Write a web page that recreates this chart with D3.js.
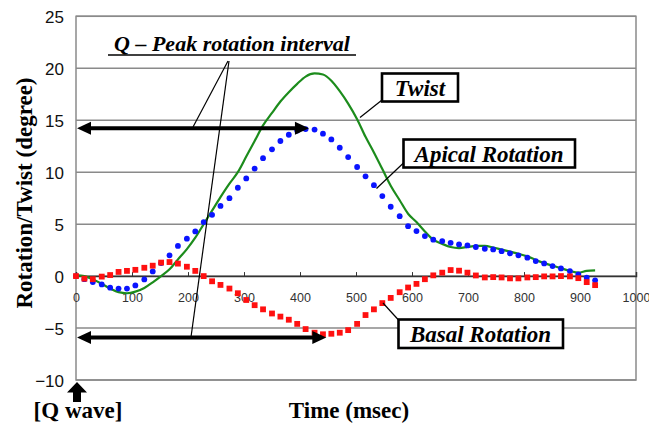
<!DOCTYPE html>
<html>
<head>
<meta charset="utf-8">
<script src="https://cdn.jsdelivr.net/npm/d3@7"></script>
<style>
  html, body { margin: 0; padding: 0; background: #fff; }
  svg { display: block; }
  .serif { font-family: "Liberation Serif", "Tinos", "Times New Roman", "Nimbus Roman", "DejaVu Serif", serif; }
</style>
</head>
<body>
<svg id="chart" width="649" height="427"></svg>
<script>
// ---- Data ----
const timeMs = [0,15,30,46,61,76,91,106,122,137,152,167,182,198,213,228,243,258,274,289,304,319,334,350,365,380,395,410,426,441,456,471,486,502,517,532,547,562,578,593,608,623,638,654,669,684,699,714,730,745,760,775,790,806,821,836,851,866,882,897,912,927];
const apicalRotation = [0,-0.3,-0.58,-0.8,-1.12,-1.2,-1.2,-0.9,-0.32,0.45,1.25,2.0,2.9,3.6,4.3,5.2,5.9,6.75,7.5,8.5,9.4,10.35,11.35,12.2,13.0,13.6,14.0,14.15,14.1,13.7,13.15,12.35,11.45,10.5,9.6,8.75,7.7,6.67,5.77,4.8,4.33,3.85,3.5,3.37,3.2,3.05,2.95,2.8,2.63,2.57,2.4,2.18,2.0,1.77,1.44,1.22,0.96,0.74,0.48,0.16,-0.16,-0.41];
const basalRotation = [0,-0.25,-0.3,-0.05,0.1,0.4,0.5,0.6,0.8,1.0,1.3,1.35,1.2,0.9,0.5,0.0,-0.5,-0.85,-1.2,-1.65,-2.3,-2.8,-3.2,-3.6,-3.9,-4.2,-4.6,-5.1,-5.45,-5.6,-5.55,-5.45,-5.2,-4.6,-3.75,-3.2,-2.6,-2.1,-1.55,-1.1,-0.75,-0.3,0.07,0.33,0.58,0.52,0.33,0.06,-0.13,-0.1,-0.13,-0.22,-0.22,-0.13,-0.1,-0.03,-0.03,0,-0.03,-0.2,-0.58,-0.87];
const twist = [0.1,0.0,-0.3,-0.75,-1.2,-1.55,-1.65,-1.5,-1.15,-0.6,0.0,0.65,1.6,2.6,3.7,5.0,6.3,7.6,8.9,10.0,11.5,13.0,14.5,15.7,16.8,17.7,18.5,19.2,19.5,19.4,18.8,17.8,16.6,15.1,13.4,11.9,10.3,8.7,7.3,6.0,5.2,4.3,3.5,3.1,2.8,2.7,2.8,2.9,2.9,2.75,2.55,2.35,2.15,1.9,1.55,1.25,1.0,0.75,0.5,0.33,0.5,0.55];
const xTicks = [0,100,200,300,400,500,600,700,800,900,1000];
const yTicks = [-10,-5,0,5,10,15,20,25];

// ---- Layout ----
const svg = d3.select("#chart");
const L = 76, R = 636, T = 16.3, B = 380;
const x = d3.scaleLinear().domain([0, 1000]).range([L, R]);
const y = d3.scaleLinear().domain([-10, 25]).range([B, T]);
const sans = "'Liberation Sans', Arial, sans-serif";

// gridlines
svg.append("g").selectAll("line").data(yTicks).join("line")
  .attr("x1", L).attr("x2", R)
  .attr("y1", d => y(d)).attr("y2", d => y(d))
  .attr("stroke", "#8a8a8a").attr("stroke-width", 1.5);

// plot border
svg.append("rect").attr("x", L).attr("y", T).attr("width", R - L).attr("height", B - T)
  .attr("fill", "none").attr("stroke", "#8a8a8a").attr("stroke-width", 1.5);

// y tick labels
svg.append("g").selectAll("text").data(yTicks).join("text")
  .attr("x", 64).attr("y", d => y(d) + 1.5)
  .attr("text-anchor", "end").attr("dominant-baseline", "central")
  .attr("font-family", sans).attr("font-size", 17).attr("fill", "#111")
  .text(d => d < 0 ? "\u2212" + Math.abs(d) : d);

// x axis at zero
const xAxis = d3.axisBottom(x).tickValues(xTicks).tickSize(-4).tickPadding(17).tickFormat(d3.format("d"));
const gx = svg.append("g").attr("transform", `translate(0,${y(0)})`).call(xAxis);
gx.select(".domain").attr("stroke", "#333").attr("stroke-width", 1.5);
gx.selectAll(".tick line").attr("stroke", "#333");
gx.selectAll(".tick text").attr("font-family", sans).attr("font-size", 12.5).attr("fill", "#333");

// series
const pts = timeMs.map((t, i) => ({ t, a: apicalRotation[i], b: basalRotation[i], w: twist[i] }));
svg.append("path").datum(pts)
  .attr("fill", "none").attr("stroke", "#1c8c1c").attr("stroke-width", 2.2)
  .attr("d", d3.line().x(d => x(d.t)).y(d => y(d.w)).curve(d3.curveMonotoneX));

svg.append("g").selectAll("circle").data(pts).join("circle")
  .attr("cx", d => x(d.t)).attr("cy", d => y(d.a)).attr("r", 2.9).attr("fill", "#0a14ff");

svg.append("g").selectAll("rect").data(pts).join("rect")
  .attr("x", d => x(d.t) - 2.9).attr("y", d => y(d.b) - 2.9)
  .attr("width", 5.8).attr("height", 5.8).attr("fill", "#ff1010");

// ---- Annotations ----
const ann = svg.append("g");

function dblArrow(x1, x2, yy) {
  ann.append("line").attr("x1", x1 + 10).attr("x2", x2 - 10).attr("y1", yy).attr("y2", yy)
    .attr("stroke", "#000").attr("stroke-width", 4);
  ann.append("path").attr("d", `M${x1},${yy} L${x1 + 14},${yy - 6.5} L${x1 + 14},${yy + 6.5} Z`).attr("fill", "#000");
  ann.append("path").attr("d", `M${x2},${yy} L${x2 - 14},${yy - 6.5} L${x2 - 14},${yy + 6.5} Z`).attr("fill", "#000");
}
dblArrow(x(0) + 1, x(416), 128.3);
dblArrow(x(0) + 1, x(447), 337.5);

// connector lines from title
ann.append("line").attr("x1", 228).attr("y1", 61).attr("x2", 193).attr("y2", 127).attr("stroke", "#000").attr("stroke-width", 1.2);
ann.append("line").attr("x1", 229).attr("y1", 61).attr("x2", 191).attr("y2", 337).attr("stroke", "#000").attr("stroke-width", 1.2);

// Q - Peak rotation interval title
ann.append("text").attr("class", "serif").attr("x", 232).attr("y", 51).attr("text-anchor", "middle")
  .attr("font-weight", "bold").attr("font-style", "italic").attr("font-size", 22)
  .text("Q \u2013 Peak rotation interval");
ann.append("line").attr("x1", 108).attr("x2", 356).attr("y1", 55).attr("y2", 55).attr("stroke", "#000").attr("stroke-width", 1.5);

// labelled boxes
function labelBox(x0, y0, x1, y1, text, tx, ty, lx1, ly1, lx2, ly2) {
  ann.append("line").attr("x1", lx1).attr("y1", ly1).attr("x2", lx2).attr("y2", ly2).attr("stroke", "#000").attr("stroke-width", 1.2);
  ann.append("rect").attr("x", x0).attr("y", y0).attr("width", x1 - x0).attr("height", y1 - y0)
    .attr("fill", "#fff").attr("stroke", "#000").attr("stroke-width", 2.6);
  ann.append("text").attr("class", "serif").attr("x", tx).attr("y", ty).attr("text-anchor", "middle")
    .attr("font-weight", "bold").attr("font-style", "italic").attr("font-size", 23)
    .text(text);
}
labelBox(382, 73.5, 458, 101.5, "Twist", 420, 95.5, 382, 100, 360, 117.5);
labelBox(403.5, 139.5, 575, 167.5, "Apical Rotation", 489, 161.5, 403.5, 163, 376.5, 188.5);
labelBox(398.5, 319.5, 563, 348, "Basal Rotation", 480.5, 341.5, 398.5, 320, 383, 303);

// axis titles
svg.append("text").attr("class", "serif").attr("transform", "translate(32,193) rotate(-90)").attr("text-anchor", "middle")
  .attr("font-weight", "bold").attr("font-size", 23)
  .text("Rotation/Twist (degree)");
svg.append("text").attr("class", "serif").attr("x", 349).attr("y", 418).attr("text-anchor", "middle")
  .attr("font-weight", "bold").attr("font-size", 23)
  .text("Time (msec)");
svg.append("text").attr("class", "serif").attr("x", 78).attr("y", 418).attr("text-anchor", "middle")
  .attr("font-weight", "bold").attr("font-size", 23)
  .text("[Q wave]");

// Q wave up arrow
svg.append("path").attr("d", "M77,382 L87,392.5 L81,392.5 L81,402 L73,402 L73,392.5 L67,392.5 Z").attr("fill", "#000");
</script>
</body>
</html>
